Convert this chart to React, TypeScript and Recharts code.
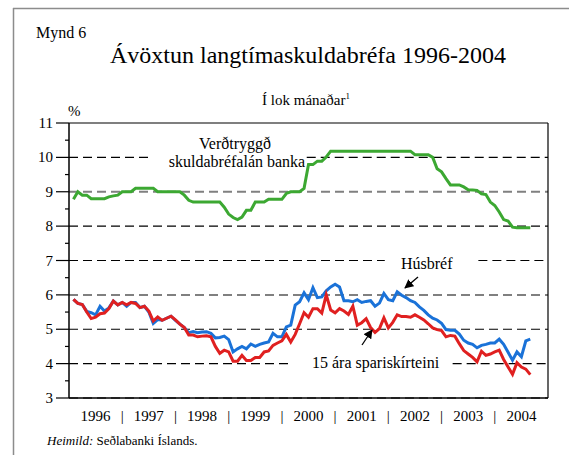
import React from "react";
import { Line, LineChart, ReferenceLine, XAxis, YAxis } from "recharts";

// Monthly end-of-month yields, Jan 1996 – Aug 2004 (%)
const HUSBREF = [
  5.87, 5.75, 5.72, 5.52, 5.48, 5.42, 5.67, 5.53, 5.62, 5.82, 5.71, 5.78,
  5.67, 5.78, 5.78, 5.63, 5.67, 5.5, 5.17, 5.28, 5.26, 5.32, 5.38, 5.26,
  5.15, 5.05, 4.9, 4.93, 4.9, 4.92, 4.93, 4.88, 4.75, 4.76, 4.8, 4.7,
  4.34, 4.43, 4.5, 4.43, 4.57, 4.5, 4.56, 4.6, 4.63, 4.88, 4.78, 4.78,
  5.07, 5.12, 5.7, 5.8, 6.06, 5.86, 6.21, 5.92, 5.94, 6.12, 6.23, 6.31,
  6.23, 5.83, 5.83, 5.8, 5.86, 5.78, 5.81, 5.83, 5.67, 5.76, 6.04, 5.86,
  5.83, 6.09, 5.99, 5.92, 5.83, 5.78, 5.65, 5.55, 5.42, 5.32, 5.27, 5.17,
  4.99, 4.97, 4.97, 4.86, 4.68, 4.6, 4.56, 4.46, 4.53, 4.56, 4.6, 4.6,
  4.71, 4.56, 4.33, 4.1, 4.34, 4.2, 4.66, 4.71,
];

const SPARI = [
  5.87, 5.75, 5.72, 5.5, 5.31, 5.35, 5.45, 5.47, 5.6, 5.82, 5.71, 5.78,
  5.71, 5.78, 5.75, 5.63, 5.67, 5.53, 5.24, 5.36, 5.26, 5.32, 5.38, 5.27,
  5.15, 5.05, 4.83, 4.83, 4.78, 4.8, 4.81, 4.78, 4.5, 4.3, 4.39, 4.34,
  4.07, 4.07, 4.24, 4.09, 4.09, 4.18, 4.18, 4.34, 4.37, 4.53, 4.6, 4.66,
  4.85, 4.63, 4.85, 5.16, 5.48, 5.35, 5.6, 5.6, 5.47, 6.0, 5.56, 5.48,
  5.6, 5.53, 5.43, 5.67, 5.12, 5.19, 5.31, 5.05, 4.91, 5.02, 5.33, 5.04,
  5.2, 5.42, 5.37, 5.37, 5.35, 5.42, 5.35, 5.27, 5.16, 5.04, 4.99, 4.96,
  4.78, 4.82, 4.8, 4.58, 4.38, 4.28, 4.18, 4.05, 4.36, 4.24, 4.28, 4.34,
  4.39, 4.12, 3.9, 3.69, 4.03, 3.9, 3.84, 3.68,
];

const BANKA = [
  8.78, 9.0, 8.9, 8.9, 8.8, 8.8, 8.8, 8.8, 8.85, 8.88, 8.9, 9.0,
  9.0, 9.0, 9.1, 9.1, 9.1, 9.1, 9.1, 9.0, 9.0, 9.0, 9.0, 9.0,
  9.0, 8.9, 8.75, 8.7, 8.7, 8.7, 8.7, 8.7, 8.7, 8.7, 8.55, 8.35,
  8.25, 8.19, 8.26, 8.46, 8.46, 8.7, 8.7, 8.7, 8.78, 8.78, 8.78, 8.78,
  8.95, 9.0, 9.0, 9.0, 9.1, 9.79, 9.79, 9.89, 9.89, 10.01, 10.18, 10.18,
  10.18, 10.18, 10.18, 10.18, 10.18, 10.18, 10.18, 10.18, 10.18, 10.18, 10.18, 10.18,
  10.18, 10.18, 10.18, 10.18, 10.18, 10.08, 10.08, 10.08, 10.08, 10.0, 9.67, 9.58,
  9.38, 9.2, 9.2, 9.2, 9.14, 9.06, 9.05, 9.04, 8.94, 8.92, 8.7, 8.6,
  8.41, 8.19, 8.15, 7.97, 7.95, 7.95, 7.95, 7.95,
];

const YEARS = ["1996", "1997", "1998", "1999", "2000", "2001", "2002", "2003", "2004"];
const Y_TICKS = [3, 3.5, 4, 4.5, 5, 5.5, 6, 6.5, 7, 7.5, 8, 8.5, 9, 9.5, 10, 10.5, 11];

// dashed grid levels, with the spans (in months) left open for the labels
const GRID = [
  { y: 3, gaps: [] as number[][] },
  { y: 4, gaps: [[50.2, 86.5]] },
  { y: 5, gaps: [] },
  { y: 6, gaps: [] },
  { y: 7, gaps: [[71.2, 92.3]] },
  { y: 8, gaps: [] },
  { y: 9, gaps: [] },
  { y: 10, gaps: [[18.7, 53.6]] },
];
const GREY_LEVELS = [3, 6, 9];

const FONT = '"Liberation Serif", "Times New Roman", serif';
const X_MAX = YEARS.length * 12;

const data = HUSBREF.map((v, i) => ({
  m: i + 1,
  husbref: v,
  spari: SPARI[i],
  banka: BANKA[i],
}));

const xTicks = YEARS.flatMap((_, i) => (i < YEARS.length - 1 ? [i * 12 + 6, (i + 1) * 12] : [i * 12 + 6]));

function XTick({ x, y, payload }: any) {
  const v = payload.value as number;
  const label = v % 12 === 6 ? YEARS[(v - 6) / 12] : "|";
  return (
    <text x={x} y={y + 23} textAnchor="middle" fontFamily={FONT} fontSize={15} fill="#000">
      {label}
    </text>
  );
}

function YTick({ x, y, payload }: any) {
  const v = payload.value as number;
  const major = Number.isInteger(v);
  return (
    <g>
      <line x1={x - (major ? 13 : 4)} x2={x} y1={y} y2={y} stroke="#000" strokeWidth={1.2} />
      {major && (
        <text x={x - 16} y={y + 5} textAnchor="end" fontFamily={FONT} fontSize={15} fill="#000">
          {v}
        </text>
      )}
    </g>
  );
}

function gridSegments(gaps: number[][]) {
  const segs: number[][] = [];
  let start = 0;
  gaps.forEach(([a, b]) => {
    segs.push([start, a]);
    start = b;
  });
  segs.push([start, X_MAX]);
  return segs;
}

export default function App() {
  return (
    <div style={{ position: "absolute", left: 0, top: 0, width: 569, height: 455, background: "#fff" }}>
      <LineChart width={569} height={455} data={data} margin={{ top: 123, right: 21, bottom: 17, left: 29 }}>
        <XAxis
          dataKey="m"
          type="number"
          domain={[0, X_MAX]}
          ticks={xTicks}
          interval={0}
          tick={<XTick />}
          tickLine={false}
          tickSize={0}
          tickMargin={0}
          height={40}
          axisLine={{ stroke: "#000", strokeWidth: 1.5 }}
        />
        <YAxis
          type="number"
          domain={[3, 11]}
          ticks={Y_TICKS}
          interval={0}
          tick={<YTick />}
          tickLine={false}
          tickSize={0}
          tickMargin={0}
          width={40}
          axisLine={{ stroke: "#000", strokeWidth: 1.5 }}
        />
        {GRID.flatMap((g) =>
          gridSegments(g.gaps).map(([a, b], k) => (
            <ReferenceLine
              key={`g${g.y}-${k}`}
              segment={[
                { x: a, y: g.y },
                { x: b, y: g.y },
              ]}
              stroke={GREY_LEVELS.includes(g.y) ? "#808080" : "#000"}
              strokeWidth={GREY_LEVELS.includes(g.y) ? 2 : 1.2}
              strokeDasharray="9 5"
            />
          )),
        )}
        <ReferenceLine y={11} stroke="#000" strokeWidth={1.2} />
        <ReferenceLine x={X_MAX} stroke="#000" strokeWidth={1.2} />
        <Line type="linear" dataKey="banka" stroke="#3ca832" strokeWidth={3} dot={false} isAnimationActive={false} />
        <Line type="linear" dataKey="husbref" stroke="#1a72d8" strokeWidth={3} dot={false} isAnimationActive={false} />
        <Line type="linear" dataKey="spari" stroke="#e02020" strokeWidth={3} dot={false} isAnimationActive={false} />
      </LineChart>

      <svg
        width={569}
        height={455}
        style={{ position: "absolute", left: 0, top: 0, pointerEvents: "none" }}
        fontFamily={FONT}
      >
        <defs>
          <marker id="arrow" viewBox="0 0 10 10" refX="9" refY="5" markerWidth="7" markerHeight="7" orient="auto">
            <path d="M0,0 L10,5 L0,10 z" fill="#000" />
          </marker>
        </defs>
        <line x1={13.5} y1={8} x2={13.5} y2={455} stroke="#8c8c8c" strokeWidth={1.5} />
        <line x1={13} y1={8.5} x2={569} y2={8.5} stroke="#8c8c8c" strokeWidth={1.5} />

        <text x={36} y={38} fontSize={16}>Mynd 6</text>
        <text x={308} y={63} fontSize={24} textAnchor="middle">Ávöxtun langtímaskuldabréfa 1996-2004</text>
        <text x={306} y={105} fontSize={15} textAnchor="middle">
          Í lok mánaðar
          <tspan fontSize={9} dy={-6}>1</tspan>
        </text>
        <text x={68} y={116} fontSize={15}>%</text>

        <text x={235} y={149} fontSize={16} textAnchor="middle">Verðtryggð</text>
        <text x={237} y={167} fontSize={16} textAnchor="middle">skuldabréfalán banka</text>

        <text x={401} y={269} fontSize={16}>Húsbréf</text>
        <line x1={418} y1={277} x2={405} y2={288} stroke="#000" strokeWidth={1.3} markerEnd="url(#arrow)" />

        <text x={312} y={368} fontSize={16}>15 ára spariskírteini</text>
        <line x1={362} y1={345} x2={372} y2={330} stroke="#000" strokeWidth={1.3} markerEnd="url(#arrow)" />

        <text x={47} y={445} fontSize={13}>
          <tspan fontStyle="italic">Heimild:</tspan> Seðlabanki Íslands.
        </text>
      </svg>
    </div>
  );
}
